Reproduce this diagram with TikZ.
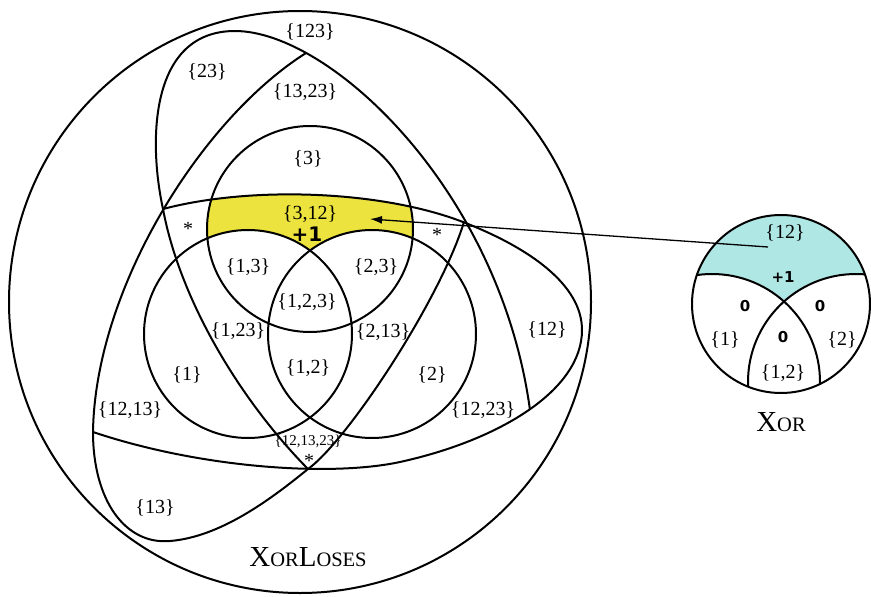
\documentclass[tikz,border=0pt]{standalone}
\usepackage{fontspec}
\setmainfont{Liberation Serif}
\newfontfamily\numfont{DejaVu Sans}
\usetikzlibrary{arrows.meta}
\definecolor{hiyellow}{RGB}{236,227,62}
\definecolor{hicyan}{RGB}{175,231,229}
\newcommand\capbig{\fontsize{29}{30}\selectfont}
\newcommand\capsmall{\fontsize{20.5}{22}\selectfont}

\begin{document}
\begin{tikzpicture}[x=1pt,y=-1pt,
  curve/.style={line width=2pt,line join=round},
  setlbl/.style={font=\fontsize{20}{22}\selectfont,inner sep=0pt},
  smalllbl/.style={font=\fontsize{15}{16}\selectfont,inner sep=0pt},
  score/.style={font=\numfont\bfseries\fontsize{20}{20}\selectfont,inner sep=0pt},
  xscore/.style={font=\numfont\bfseries\fontsize{15}{16}\selectfont,inner sep=0pt},
  starlbl/.style={font=\fontsize{20}{20}\selectfont,inner sep=0pt},
  titlelbl/.style={inner sep=0pt}]

\useasboundingbox (0,0) rectangle (871,597);

% ---- highlighted region {3,12}: inside circle 3 and the egg, outside circles 1 and 2
\begin{scope}
  \clip (310,229) circle[radius=103pt];
  \fill[hiyellow] (163,209) .. controls (250,186) and (380,190) .. (463,222)
    .. controls (530,248) and (582,285) .. (582,330)
    .. controls (582,390) and (500,440) .. (400,462)
    .. controls (330,477) and (200,468) .. (93,432) -- cycle;
  \fill[white] (248,334) circle[radius=104pt];
  \fill[white] (372,334) circle[radius=104pt];
\end{scope}

% ---- highlighted region {12} of the small diagram
\begin{scope}
  \clip (781,304) circle[radius=89pt];
  \fill[hicyan] (781,304) circle[radius=89pt];
  \fill[white] (712,382) circle[radius=108pt];
  \fill[white] (856,382) circle[radius=108pt];
\end{scope}

% ---- large diagram outlines
\draw[curve] (300,302) circle[radius=291pt];
\draw[curve] (248,334) circle[radius=104pt];
\draw[curve] (372,334) circle[radius=104pt];
\draw[curve] (310,229) circle[radius=103pt];
% egg holding the 12 regions
\draw[curve] (163,209) .. controls (250,186) and (380,190) .. (463,222)
  .. controls (530,248) and (582,285) .. (582,330)
  .. controls (582,390) and (500,440) .. (400,462)
  .. controls (330,477) and (200,468) .. (93,432);
% loop holding the 23 regions
\draw[curve] (308,469) .. controls (240,400) and (180,300) .. (163,209)
  .. controls (148,140) and (150,31) .. (235,31)
  .. controls (330,31) and (500,190) .. (530,410);
% loop holding the 13 regions
\draw[curve] (306,53) .. controls (200,120) and (95,290) .. (93,432)
  .. controls (93,500) and (125,545) .. (170,541)
  .. controls (220,537) and (270,500) .. (308,469)
  .. controls (348,440) and (440,300) .. (464,222);

% ---- small diagram outlines
\begin{scope}
  \clip (781,304) circle[radius=89pt];
  \draw[curve] (712,382) circle[radius=108pt];
  \draw[curve] (856,382) circle[radius=108pt];
\end{scope}
\draw[curve] (781,304) circle[radius=89pt];

% ---- arrow from the small diagram into the large one
\coordinate (xortail) at (768,247);
\coordinate (yelltip) at (370,219);
\draw[line width=1.3pt,-{Latex[length=12pt,width=8pt]}] (xortail) -- (yelltip);

% ---- labels of the large diagram
\node[setlbl] (s123) at (310,32) {\{123\}};
\node[setlbl] (s23) at (207,72) {\{23\}};
\node[setlbl] (s1323) at (305,92) {\{13,23\}};
\node[setlbl] (s3) at (308,159) {\{3\}};
\node[setlbl] (s312) at (310,214) {\{3,12\}};
\node[score] (plusA) at (307,234) {+1};
\node[setlbl] (s13a) at (248,267) {\{1,3\}};
\node[setlbl] (s23a) at (376,267) {\{2,3\}};
\node[setlbl] (s123b) at (307,302) {\{1,2,3\}};
\node[setlbl] (s1x23) at (238,331) {\{1,23\}};
\node[setlbl] (s2x13) at (383,332) {\{2,13\}};
\node[setlbl] (s12b) at (308,368) {\{1,2\}};
\node[setlbl] (s1) at (187,375) {\{1\}};
\node[setlbl] (s2) at (432,375) {\{2\}};
\node[setlbl] (s1213) at (130,410) {\{12,13\}};
\node[setlbl] (s12) at (547,330) {\{12\}};
\node[setlbl] (s1223) at (483,410) {\{12,23\}};
\node[smalllbl] (s121323) at (308,441) {\{12,13,23\}};
\node[setlbl] (s13) at (155,508) {\{13\}};
\node[starlbl] (starA) at (188,229) {*};
\node[starlbl] (starB) at (437,235) {*};
\node[starlbl] (starC) at (309,461) {*};
\node[titlelbl] (titleA) at (308,557) {\capbig X\capsmall OR\capbig L\capsmall OSES};

% ---- labels of the small diagram
\node[setlbl] (x12) at (785,233) {\{12\}};
\node[xscore] (xplus) at (783,277) {+1};
\node[xscore] (x0a) at (745,306) {0};
\node[xscore] (x0b) at (820,306) {0};
\node[xscore] (x0c) at (783,337) {0};
\node[setlbl] (x1) at (725,340) {\{1\}};
\node[setlbl] (x2) at (842,340) {\{2\}};
\node[setlbl] (x12b) at (783,373) {\{1,2\}};
\node[titlelbl] (titleB) at (781,422) {\capbig X\capsmall OR};
\end{tikzpicture}
\end{document}
